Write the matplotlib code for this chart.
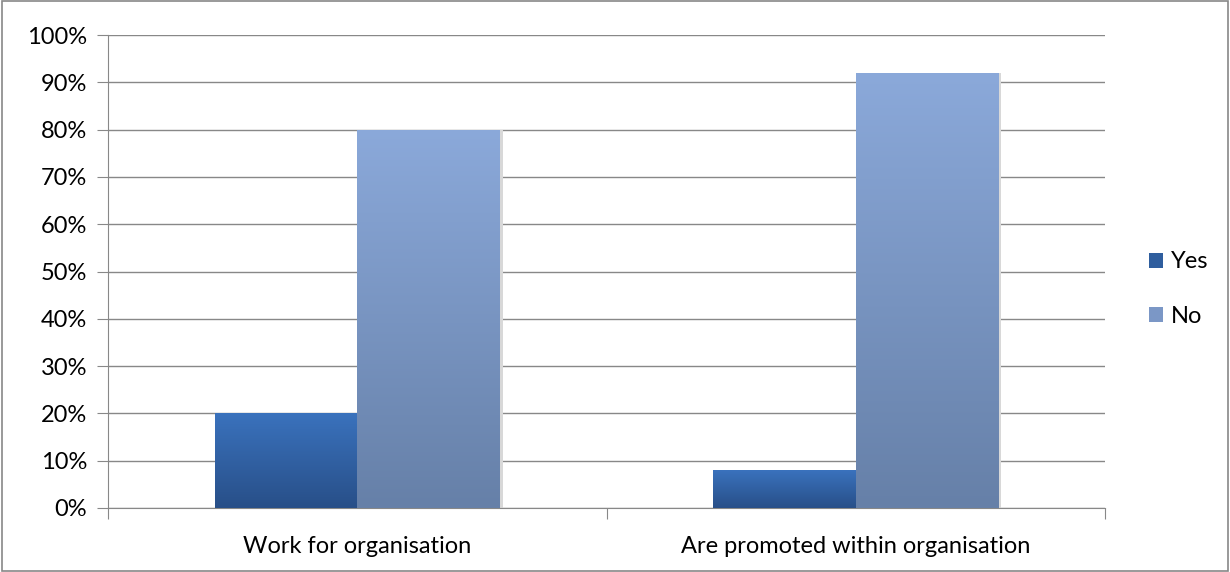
import numpy as np
import matplotlib.pyplot as plt
from matplotlib.colors import LinearSegmentedColormap
from matplotlib.patches import Rectangle
from matplotlib.ticker import PercentFormatter

categories = ['Work for organisation', 'Are promoted within organisation']
series = ['Yes', 'No']
yes_vals = [20, 8]
no_vals = [80, 92]

# gradient colours (top, bottom) per series
grad = {
    'Yes': ('#3a72bd', '#284f88'),
    'No': ('#8ba9da', '#6680a8'),
}

plt.rcParams['font.family'] = ['Lato', 'DejaVu Sans']
FS = 17

fig = plt.figure(figsize=(12.3, 5.72), dpi=100)
ax = fig.add_axes([108 / 1230, 1 - 508 / 572, (1105 - 108) / 1230, (508 - 35) / 572])

x = np.arange(len(categories))
width = 0.286


def gradient_bar(ax, xc, h, w, top, bottom):
    cmap = LinearSegmentedColormap.from_list('g', [bottom, top])
    rect = Rectangle((xc - w / 2, 0), w, h, facecolor='none', edgecolor='none', zorder=3)
    ax.add_patch(rect)
    img = ax.imshow(np.linspace(0, 1, 256).reshape(-1, 1), cmap=cmap, origin='lower',
                    extent=(xc - w / 2, xc + w / 2, 0, h), aspect='auto', zorder=3)
    img.set_clip_path(rect)
    # light shadow on the right side
    ax.add_patch(Rectangle((xc + w / 2, 0), 0.006, h, facecolor='#d8d8d8',
                           edgecolor='none', zorder=2))


for xi, (yv, nv) in enumerate(zip(yes_vals, no_vals)):
    gradient_bar(ax, xi - width / 2, yv, width, *grad['Yes'])
    gradient_bar(ax, xi + width / 2, nv, width, *grad['No'])

ax.set_xlim(-0.5, 1.5)
ax.set_ylim(0, 100)
ax.set_yticks(np.arange(0, 101, 10))
ax.yaxis.set_major_formatter(PercentFormatter(decimals=0))
ax.grid(axis='y', color='#888888', linewidth=1, zorder=0)
ax.set_axisbelow(True)

ax.set_xticks([-0.5, 0.5, 1.5])
ax.set_xticklabels([])
ax.set_xticks(x, minor=True)
ax.set_xticklabels(categories, minor=True)
ax.tick_params(axis='x', which='minor', length=0, pad=20, labelsize=FS)
ax.tick_params(axis='x', which='major', length=8, color='#888888', direction='out')
ax.tick_params(axis='y', length=8, color='#888888', pad=7, labelsize=FS)

for side in ['top', 'right']:
    ax.spines[side].set_visible(False)
for side in ['left', 'bottom']:
    ax.spines[side].set_color('#888888')

# legend
handles = [Rectangle((0, 0), 1, 1, facecolor=c) for c in ['#2f5e9e', '#7b97c6']]
fig.legend(handles, series, loc='center left', bbox_to_anchor=(1128 / 1230, 1 - 289 / 572),
           frameon=False, fontsize=FS, handlelength=0.6, handleheight=0.6,
           handletextpad=0.3, labelspacing=1.4)

# outer border
fig.add_artist(Rectangle((0.002, 0.002), 0.996, 0.996, transform=fig.transFigure,
                         fill=False, edgecolor='#888888', linewidth=1.2))

fig.savefig('out.png', dpi=100)
